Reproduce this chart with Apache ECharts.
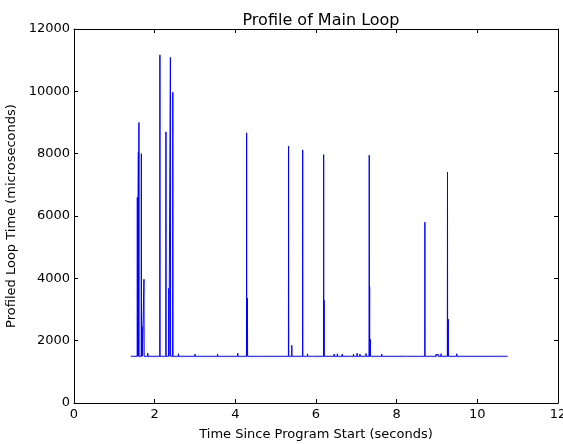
<!DOCTYPE html>
<html lang="en">

<head>
    <meta charset="UTF-8">
    <title>Profile of Main Loop</title>
    <script src="https://cdn.jsdelivr.net/npm/echarts@6.0.0/dist/echarts.min.js"></script>
    <style>
        html, body {
            margin: 0;
            padding: 0;
            background-color: #ffffff;
        }

        #main {
            width: 563px;
            height: 444px;
        }
    </style>
</head>

<body>
    <div id="main"></div>

    <script>
        // baseline loop time and where the recording starts / stops (seconds)
        const baseTime = 1500;
        const runStart = 1.41;
        const runEnd = 10.75;

        // spikes: time (s) and peak loop time (microseconds)
        const spikeTimes = [
            1.57, 1.595, 1.61, 1.67, 1.69, 1.735, 1.83, 2.13, 2.28, 2.35, 2.39, 2.45,
            2.59, 3.0, 3.56, 4.06, 4.28, 4.30, 4.57, 5.32, 5.40, 5.67, 5.79, 5.92,
            6.19, 6.20, 6.45, 6.53, 6.65, 6.86, 6.93, 7.02, 7.09, 7.17, 7.24, 7.32,
            7.33, 7.345, 7.63, 8.25, 8.70, 8.83, 8.98, 9.03, 9.10, 9.26, 9.28, 9.49,
            10.07, 10.56
        ];
        const spikeValues = [
            6600, 8050, 9000, 8000, 2450, 3970, 1600, 11170, 8700, 3680, 11090, 9970,
            1580, 1570, 1570, 1600, 8670, 3360, 1560, 8245, 1850, 8120, 1580, 1560,
            7970, 3300, 1570, 1580, 1570, 1560, 1570, 1600, 1570, 1560, 1590, 7950,
            3730, 2050, 1570, 1560, 5800, 1560, 1570, 1570, 1580, 7410, 2690, 1580,
            1560, 1560
        ];

        const xTicks = [0, 2, 4, 6, 8, 10, 12];
        const yTicks = [0, 2000, 4000, 6000, 8000, 10000, 12000];

        // build the line: baseline, with each spike going up and straight back down
        let lineData = [[runStart, baseTime]];
        spikeTimes.forEach((t, i) => {
            lineData.push([t - 0.004, baseTime]);
            lineData.push([t, spikeValues[i]]);
            lineData.push([t + 0.004, baseTime]);
        });
        lineData.push([runEnd, baseTime]);

        let myChart = echarts.init(document.getElementById('main'));

        const font = 'DejaVu Sans';
        const axisCommon = {
            axisLine: { onZero: false, lineStyle: { color: '#000', width: 1 } },
            axisTick: { inside: true, length: 4, lineStyle: { color: '#000' } },
            splitLine: { show: false }
        };
        const plainNumber = v => String(v);

        option = {
            animation: false,
            backgroundColor: '#ffffff',
            title: {
                text: 'Profile of Main Loop',
                left: 316,
                top: 8,
                textAlign: 'center',
                textStyle: { fontFamily: font, fontSize: 16, fontWeight: 'normal', color: '#000' }
            },
            grid: { left: 74, right: 5, top: 29, bottom: 41, outerBoundsMode: 'none' },
            xAxis: [
                Object.assign({
                    type: 'value',
                    min: xTicks[0],
                    max: xTicks[xTicks.length - 1],
                    interval: 2,
                    name: 'Time Since Program Start (seconds)',
                    nameLocation: 'middle',
                    nameGap: 25,
                    nameTextStyle: { fontFamily: font, fontSize: 13, color: '#000' },
                    axisLabel: { fontFamily: font, fontSize: 13, color: '#000', margin: 5, formatter: plainNumber }
                }, axisCommon),
                Object.assign({
                    type: 'value',
                    position: 'top',
                    min: xTicks[0],
                    max: xTicks[xTicks.length - 1],
                    interval: 2,
                    axisLabel: { show: false }
                }, axisCommon)
            ],
            yAxis: [
                Object.assign({
                    type: 'value',
                    min: yTicks[0],
                    max: yTicks[yTicks.length - 1],
                    interval: 2000,
                    name: 'Profiled Loop Time (microseconds)',
                    nameLocation: 'middle',
                    nameGap: 49,
                    nameTextStyle: { fontFamily: font, fontSize: 13, color: '#000' },
                    axisLabel: { fontFamily: font, fontSize: 13, color: '#000', margin: 4, formatter: plainNumber }
                }, axisCommon),
                Object.assign({
                    type: 'value',
                    position: 'right',
                    min: yTicks[0],
                    max: yTicks[yTicks.length - 1],
                    interval: 2000,
                    axisLabel: { show: false }
                }, axisCommon)
            ],
            series: [
                {
                    type: 'line',
                    data: lineData,
                    showSymbol: false,
                    lineStyle: { color: '#0000ff', width: 1 },
                    itemStyle: { color: '#0000ff' }
                }
            ]
        };

        myChart.setOption(option);
    </script>

</body>

</html>
